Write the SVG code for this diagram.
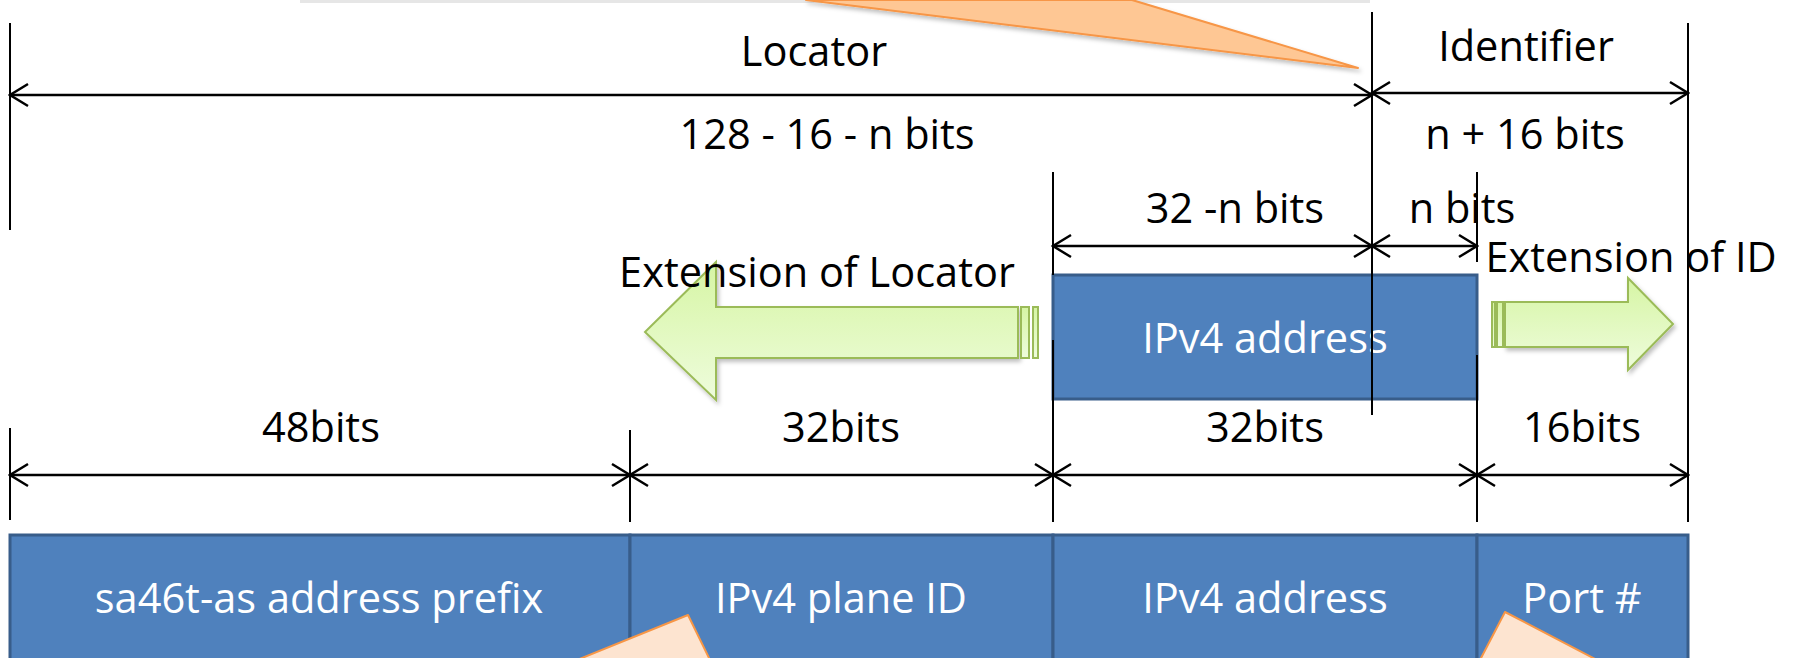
<svg xmlns="http://www.w3.org/2000/svg" width="1798" height="658" viewBox="0 0 1798 658">
  <defs>
    <style>
      .t { font-family: "Open Sans", "Noto Sans", "Liberation Sans", sans-serif; font-size: 41.5px; fill: #000; text-anchor: middle; }
      .w { fill: #ffffff; }
      .dim { stroke: #000; stroke-width: 2.5; fill: none; marker-start: url(#ah); marker-end: url(#ah); }
      .vl { stroke: #000; stroke-width: 2; fill: none; }
      .blue { fill: #4f81bd; stroke: #385d8a; stroke-width: 3; }
      .green { fill: url(#gg); stroke: #9bbb59; stroke-width: 2; }
      .call { stroke: #f79646; stroke-width: 2; stroke-linejoin: round; }
    </style>
    <marker id="ah" viewBox="-20 -13 22 26" refX="0" refY="0" markerWidth="22" markerHeight="26" markerUnits="userSpaceOnUse" orient="auto-start-reverse">
      <path d="M-18,-11 L0,0 L-18,11" fill="none" stroke="#000" stroke-width="2.5"/>
    </marker>
    <linearGradient id="gg" x1="0" y1="0" x2="0" y2="1">
      <stop offset="0" stop-color="#d6f5a4"/>
      <stop offset="1" stop-color="#eefcdc"/>
    </linearGradient>
    <filter id="sh" x="-10%" y="-10%" width="130%" height="140%">
      <feDropShadow dx="2" dy="3" stdDeviation="2" flood-color="#000" flood-opacity="0.25"/>
    </filter>
  </defs>

  <!-- top callout pointer (cropped) -->
  <g id="callout-top">
    <rect x="300" y="0" width="1070" height="3" fill="#e6e6e6"/>
    <path class="call" d="M806,0 L1358,68 L1132,0 Z" fill="#fec794" filter="url(#sh)"/>
  </g>

  <!-- upper IPv4 address block -->
  <g id="ipv4-upper">
    <rect class="blue" x="1053" y="275" width="424" height="124"/>
    <text class="t w" x="1265" y="353">IPv4 address</text>
  </g>

  <!-- green extension arrows -->
  <g id="ext-locator">
    <path class="green" filter="url(#sh)" d="M1018,307 L716,307 L716,262 L645,332 L716,400 L716,358 L1018,358 Z"/>
    <rect class="green" x="1021" y="307" width="8" height="51"/>
    <rect class="green" x="1033" y="307" width="5" height="51"/>
    <text class="t" x="817" y="287">Extension of Locator</text>
  </g>
  <g id="ext-id">
    <path class="green" filter="url(#sh)" d="M1505,302 L1628,302 L1628,278 L1673,324 L1628,370 L1628,347 L1505,347 Z"/>
    <rect class="green" x="1492" y="302" width="3" height="45"/>
    <rect class="green" x="1497" y="302" width="6" height="45"/>
    <text class="t" x="1631" y="272">Extension of ID</text>
  </g>

  <!-- bottom address bar -->
  <g id="bar-prefix">
    <rect class="blue" x="10" y="535" width="620" height="130"/>
    <text class="t w" x="319" y="613">sa46t-as address prefix</text>
  </g>
  <g id="bar-plane">
    <rect class="blue" x="630" y="535" width="423" height="130"/>
    <text class="t w" x="841" y="613">IPv4 plane ID</text>
  </g>
  <g id="bar-ipv4">
    <rect class="blue" x="1053" y="535" width="424" height="130"/>
    <text class="t w" x="1265" y="613">IPv4 address</text>
  </g>
  <g id="bar-port">
    <rect class="blue" x="1477" y="535" width="211" height="130"/>
    <text class="t w" x="1582" y="613">Port #</text>
  </g>

  <!-- bottom callout pointers (cropped) -->
  <g id="callout-bottom-1">
    <path class="call" d="M577,660 L688,615 L710,660 Z" fill="#fde4d0"/>
  </g>
  <g id="callout-bottom-2">
    <path class="call" d="M1480,660 L1505,612 L1597,660 Z" fill="#fde4d0"/>
  </g>

  <!-- labels -->
  <g id="labels">
    <text class="t" x="814" y="66">Locator</text>
    <text class="t" x="1526" y="61">Identifier</text>
    <text class="t" x="827" y="149">128 - 16 - n bits</text>
    <text class="t" x="1525" y="149">n + 16 bits</text>
    <text class="t" x="1235" y="223">32 -n bits</text>
    <text class="t" x="1462" y="223">n bits</text>
    <text class="t" x="321" y="442">48bits</text>
    <text class="t" x="841" y="442">32bits</text>
    <text class="t" x="1265" y="442">32bits</text>
    <text class="t" x="1582" y="442">16bits</text>
  </g>

  <!-- connectors: extension lines and dimension arrows -->
  <g id="connectors">
    <line class="vl" x1="10" y1="23" x2="10" y2="230"/>
    <line class="vl" x1="10" y1="428" x2="10" y2="520"/>
    <line class="vl" x1="1372" y1="12" x2="1372" y2="415"/>
    <line class="vl" x1="1688" y1="23" x2="1688" y2="522"/>
    <line class="vl" x1="1053" y1="172" x2="1053" y2="275"/>
    <line class="vl" x1="1053" y1="340" x2="1053" y2="522"/>
    <line class="vl" x1="1477" y1="172" x2="1477" y2="262"/>
    <line class="vl" x1="1477" y1="355" x2="1477" y2="522"/>
    <line class="vl" x1="630" y1="430" x2="630" y2="522"/>

    <line class="dim" x1="10" y1="95" x2="1372" y2="95"/>
    <line class="dim" x1="1372" y1="93" x2="1688" y2="93"/>
    <line class="dim" x1="1053" y1="246" x2="1372" y2="246"/>
    <line class="dim" x1="1372" y1="246" x2="1477" y2="246"/>
    <line class="dim" x1="10" y1="475" x2="630" y2="475"/>
    <line class="dim" x1="630" y1="475" x2="1053" y2="475"/>
    <line class="dim" x1="1053" y1="475" x2="1477" y2="475"/>
    <line class="dim" x1="1477" y1="475" x2="1688" y2="475"/>
  </g>
</svg>
